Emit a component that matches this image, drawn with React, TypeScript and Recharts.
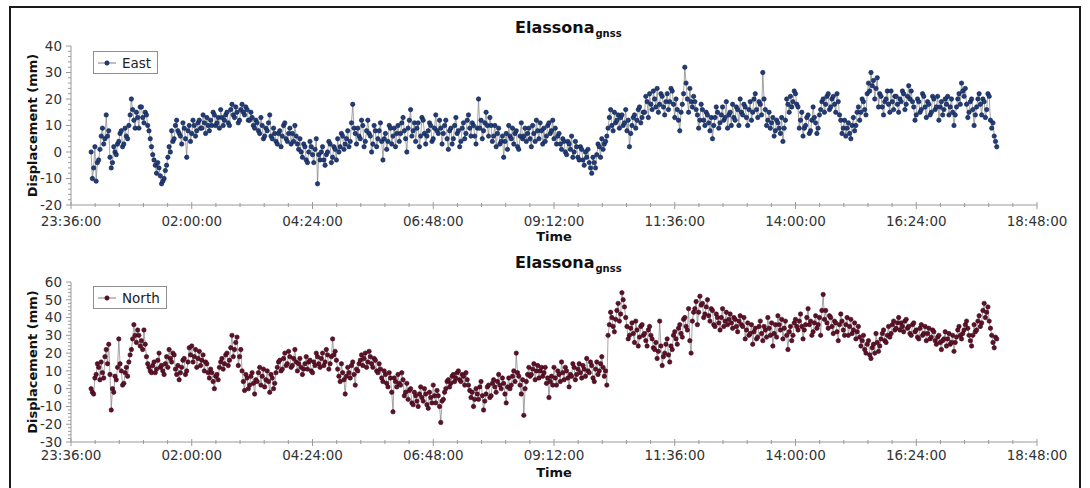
import React from "react";
import { LineChart, Line, XAxis, YAxis, Legend } from "recharts";

const FONT = '"DejaVu Sans", Verdana, sans-serif';
const AXIS = "#9a9a9a";
const LINK = "#808080";

// samples every 1.5 minutes, first one 24 min after 23:36:00
const FIRST_MINUTE = 24;
const STEP_MINUTES = 1.5;

const xTickMinutes = [0, 144, 288, 432, 576, 720, 864, 1008, 1152];
const xTickLabels = [
  "23:36:00",
  "02:00:00",
  "04:24:00",
  "06:48:00",
  "09:12:00",
  "11:36:00",
  "14:00:00",
  "16:24:00",
  "18:48:00",
];
const eastTicks = [-20, -10, 0, 10, 20, 30, 40];
const northTicks = [-30, -20, -10, 0, 10, 20, 30, 40, 50, 60];

// East displacement (mm), one row per hour
const eastValues = [
  0, -10, -6, 2, -11, -4, -3, 1, 6, 9, 3, 5, 14, 6, 8, -2, -6, -4, 2, 0, -1, 3, 4, 7, 8, 2, 3, 9, 6, 5, 10, 14, 20, 16, 12, 9, 15, 13, 9, 17,
  17, 13, 11, 15, 14, 10, 8, 5, 2, -1, -3, -5, -8, -4, -6, -9, -12, -11, -10, -7, -5, -2, 2, 0, 8, 4, 5, 10, 12, 8, 7, 6, 3, 11, 9, 5, -2, 8, 10, 4,
  7, 12, 10, 6, 8, 11, 12, 9, 9, 14, 11, 7, 13, 10, 8, 12, 10, 15, 14, 10, 11, 13, 9, 16, 13, 10, 12, 14, 15, 11, 10, 16, 18, 14, 13, 17, 15, 11, 12, 16,
  18, 15, 14, 17, 16, 12, 12, 15, 13, 10, 9, 12, 11, 8, 7, 13, 10, 5, 6, 9, 8, 11, 14, 6, 5, 9, 7, 4, 3, 7, 8, 2, 6, 10, 11, 5, 4, 7, 9, 3,
  7, 4, 10, 6, 3, 1, 5, 0, -2, 3, 2, -3, -4, 0, 4, 2, -1, -4, 1, 5, -12, -1, -3, 0, 2, -3, -5, -1, 0, 4, 3, -4, -2, 2, 1, -3, 5, 0, 2, 7,
  6, 1, 3, 5, 8, 2, 4, 11, 18, 9, 7, 3, 9, 6, 5, 12, 10, 2, 4, 8, 12, 7, 6, 0, 3, 10, 8, 2, 5, 8, 11, 4, -3, 5, 7, 1, 4, 10, 9, 3,
  6, 9, 2, 7, 10, 4, 7, 11, 13, 8, 5, 0, 9, 12, 16, 6, 8, 11, 4, 9, 11, 2, 6, 13, 12, 7, 3, 6, 8, 11, 10, 4, 5, 9, 14, 8, 7, 12, 9, 3,
  7, 10, 12, 5, 1, 8, 9, 3, 5, 10, 13, 7, 8, 2, 4, 9, 11, 5, 7, 12, 14, 9, 6, 11, 10, 6, 3, 9, 20, 9, 12, 5, 8, 11, 15, 10, 6, 13, 10, 4,
  6, 10, 2, 7, 9, 3, 4, 6, -2, 4, 7, 1, 10, 6, 5, 9, 3, 7, 8, 2, 1, 6, 11, 5, 6, 9, 4, 7, 9, 5, 2, 10, 7, 4, 12, 8, 5, 11, 8, 3,
  9, 4, 6, 10, 11, 7, 8, 12, 5, 9, 3, 6, 7, 3, 1, 5, 4, 0, -1, 4, 3, 1, 6, -2, 0, 4, 2, -2, -3, 2, 1, -3, -5, 0, -2, 1, -4, -6, -8, -2,
  -4, -6, -1, 3, 2, -2, 5, 1, 3, 4, 6, 9, 13, 16, 10, 8, 15, 11, 12, 14, 9, 13, 14, 10, 11, 16, 8, 12, 2, 7, 10, 13, 14, 9, 12, 16, 17, 11, 13, 15,
  15, 21, 19, 13, 22, 18, 16, 23, 20, 17, 24, 15, 18, 22, 21, 17, 14, 19, 22, 16, 19, 24, 23, 18, 13, 20, 16, 12, 8, 15, 18, 22, 32, 26, 20, 15, 24, 19, 17, 21,
  19, 16, 14, 9, 12, 18, 16, 12, 10, 15, 14, 11, 8, 13, 5, 10, 13, 17, 15, 9, 11, 14, 17, 12, 13, 19, 9, 14, 15, 10, 18, 13, 12, 17, 16, 10, 20, 15, 14, 18,
  17, 13, 10, 16, 19, 12, 15, 20, 22, 16, 13, 19, 18, 14, 30, 20, 16, 10, 12, 15, 9, 11, 13, 6, 8, 12, 11, 9, 7, 13, 4, 9, 12, 20, 18, 15, 21, 17, 19, 23,
  22, 18, 17, 9, 12, 15, 6, 9, 10, 13, 14, 7, 8, 12, 17, 13, 11, 7, 9, 14, 16, 19, 20, 15, 18, 21, 22, 16, 17, 20, 21, 18, 15, 22, 19, 14, 12, 7, 9, 12,
  6, 9, 11, 7, 5, 10, 13, 8, 10, 15, 17, 12, 15, 20, 19, 16, 14, 22, 26, 23, 30, 25, 27, 20, 24, 28, 17, 22, 21, 17, 14, 19, 20, 23, 18, 15, 23, 19, 16, 21,
  21, 18, 15, 20, 19, 23, 22, 16, 18, 21, 25, 20, 23, 19, 17, 12, 14, 20, 19, 15, 16, 22, 21, 17, 13, 19, 18, 14, 15, 21, 20, 16, 17, 21, 12, 17, 19, 14, 16, 20,
  18, 21, 14, 17, 20, 15, 10, 14, 17, 20, 22, 18, 26, 23, 21, 24, 18, 13, 15, 19, 20, 16, 10, 14, 17, 20, 22, 18, 14, 20, 19, 13, 16, 22, 21, 12, 9, 11, 6, 4,
  2,
];

// North displacement (mm), one row per hour
const northValues = [
  0, -2, -3, 6, 8, 14, 12, 5, 15, 9, 6, 18, 22, 14, 25, 8, -12, 0, -2, 7, 5, 12, 28, 14, 10, 2, 3, 9, 12, 7, 15, 19, 22, 28, 36, 30, 26, 33, 30, 24,
  27, 22, 33, 25, 18, 14, 12, 10, 9, 13, 15, 9, 11, 16, 20, 12, 13, 10, 8, 14, 18, 12, 22, 17, 15, 20, 19, 11, 8, 13, 5, 9, 12, 16, 17, 8, 10, 15, 23, 19,
  24, 15, 18, 22, 12, 17, 21, 13, 16, 19, 10, 15, 14, 9, 6, 11, 9, 4, 0, 7, 8, 5, 12, 15, 17, 11, 14, 19, 20, 13, 16, 23, 30, 18, 22, 26, 29, 13, 18, 22,
  10, 4, -1, 8, 6, 0, 2, 7, 9, 3, -3, 5, 4, 9, 12, 2, 7, 11, 1, 5, 10, 4, -2, 8, 6, 0, 3, 9, 12, 15, 16, 10, 11, 17, 20, 13, 14, 21, 18, 12,
  13, 17, 22, 15, 10, 14, 17, 12, 8, 11, 14, 18, 11, 15, 16, 10, 9, 15, 13, 20, 18, 14, 12, 17, 20, 13, 15, 22, 19, 11, 14, 18, 28, 19, 21, 16, 11, 7, 4, 14,
  9, 5, -3, 7, 12, 9, 6, 13, 15, 8, 2, 11, 10, 14, 16, 19, 13, 17, 20, 12, 15, 21, 18, 14, 12, 17, 16, 10, 9, 14, 11, 6, 4, 10, 8, 3, 1, 9, 6, -2,
  -13, 6, 4, 1, 8, 3, 2, 9, 5, -4, -2, 3, -6, -1, 0, -8, -9, -2, -4, -7, -10, -3, 1, -5, -7, 0, -3, -9, -11, -2, -5, -8, 2, -4, -8, -1, -4, -10, -19, -7,
  -6, -2, 0, 4, 5, 1, 3, 7, 8, 4, 6, 9, 10, 5, 4, 8, 7, 2, 9, 5, 2, -1, -5, -2, -10, -6, 0, -3, -6, 1, 4, -4, -12, -7, -3, 1, 2, -5, -4, 3,
  5, 1, -2, 4, 8, 2, 0, 6, 3, -3, -8, 1, 6, 0, 2, 7, 10, 4, 20, 9, 7, 2, -3, 5, -15, 0, 4, 8, 12, 7, 8, 11, 14, 5, 10, 13, 6, 10, 12, 7,
  9, 12, 3, 6, -5, 4, 7, 2, 12, 6, 2, 10, 8, 4, 15, 9, 5, 12, 10, 6, 1, 8, 7, 14, 12, 5, 8, 11, 14, 9, 6, 13, 11, 7, 17, 10, 9, 15, 13, 6,
  4, 11, 15, 8, 10, 14, 18, 12, 7, 10, 2, 30, 36, 43, 40, 35, 32, 39, 44, 48, 38, 42, 54, 50, 46, 40, 35, 28, 30, 34, 37, 31, 26, 38, 33, 24, 29, 35, 36, 30,
  31, 27, 24, 33, 35, 30, 28, 23, 22, 26, 17, 21, 38, 24, 13, 18, 20, 25, 28, 19, 15, 24, 22, 30, 32, 28, 25, 34, 36, 31, 29, 39, 40, 35, 33, 45, 27, 20, 38, 43,
  45, 49, 36, 43, 52, 47, 48, 40, 42, 46, 50, 41, 38, 45, 44, 36, 35, 42, 40, 37, 33, 40, 45, 35, 38, 43, 36, 39, 42, 37, 34, 40, 39, 35, 32, 38, 41, 36, 35, 40,
  28, 33, 37, 30, 31, 36, 25, 32, 34, 28, 29, 35, 38, 31, 27, 35, 33, 29, 40, 34, 30, 37, 24, 31, 36, 29, 41, 36, 33, 39, 28, 34, 38, 30, 22, 32, 35, 27, 30, 37,
  39, 35, 33, 38, 42, 35, 28, 33, 36, 40, 45, 36, 38, 30, 32, 37, 41, 34, 36, 40, 30, 44, 53, 39, 44, 37, 34, 41, 40, 35, 31, 38, 37, 32, 27, 36, 42, 38, 33, 30,
  36, 40, 30, 35, 39, 31, 33, 37, 28, 32, 35, 29, 24, 27, 30, 22, 20, 25, 27, 19, 17, 23, 25, 20, 31, 26, 21, 24, 28, 31, 33, 27, 26, 30, 35, 29, 31, 36, 38, 33,
  34, 37, 40, 33, 37, 35, 32, 38, 39, 34, 35, 31, 30, 36, 37, 32, 33, 29, 28, 34, 36, 30, 31, 35, 27, 31, 34, 28, 29, 33, 32, 27, 25, 29, 30, 26, 22, 27, 28, 32,
  24, 28, 31, 25, 26, 30, 21, 26, 29, 33, 35, 30, 28, 31, 33, 36, 38, 34, 30, 27, 24, 30, 36, 32, 33, 38, 41, 35, 37, 44, 48, 40, 43, 46, 38, 34, 30, 26, 23, 29,
  28,
];

const toRows = (values: number[]) =>
  values.map((v, i) => ({ t: FIRST_MINUTE + i * STEP_MINUTES, v }));

// 5 minor divisions per major time step
const xMinorTicks = xTickMinutes
  .slice(0, -1)
  .flatMap((m, i) => [0, 1, 2, 3, 4].map((k) => m + (k * (xTickMinutes[i + 1] - m)) / 5))
  .concat(xTickMinutes[xTickMinutes.length - 1]);

const everyTwo = (ticks: number[]) => {
  const out: number[] = [];
  for (let v = ticks[0]; v <= ticks[ticks.length - 1]; v += 2) out.push(v);
  return out;
};

const X_TICK_SIZE = 5;
const Y_TICK_SIZE = 5;
const Y_TICK_MARGIN = 4;

function makeXTick(margin: number) {
  return function XTick(props: any) {
    const { x, y, payload } = props;
    const idx = xTickMinutes.findIndex((m) => Math.abs(m - payload.value) < 1e-6);
    const axisY = y - X_TICK_SIZE - margin;
    const major = idx >= 0;
    return (
      <g>
        <line x1={x} x2={x} y1={axisY - (major ? 3 : 2)} y2={axisY + (major ? 4 : 2)} stroke={AXIS} />
        {major && (
          <text x={x} y={y} dy="0.71em" textAnchor="middle" fontSize={13.5} fontFamily={FONT} fill="#333">
            {xTickLabels[idx]}
          </text>
        )}
      </g>
    );
  };
}

function makeYTick(majors: number[]) {
  return function YTick(props: any) {
    const { x, y, payload } = props;
    const axisX = x + Y_TICK_SIZE + Y_TICK_MARGIN;
    const major = majors.includes(payload.value);
    return (
      <g>
        <line x1={axisX - (major ? 5 : 3)} x2={axisX} y1={y} y2={y} stroke={AXIS} />
        {major && (
          <text x={x} y={y} dy="0.36em" textAnchor="end" fontSize={13.5} fontFamily={FONT} fill="#333">
            {payload.value}
          </text>
        )}
      </g>
    );
  };
}

function LegendBox({ name, fill, edge }: { name: string; fill: string; edge: string }) {
  return (
    <div
      style={{
        display: "flex",
        alignItems: "center",
        height: 21,
        padding: "0 6px 0 3px",
        border: "1px solid #8f8f8f",
        background: "#fff",
        fontFamily: FONT,
        fontSize: 13.5,
        color: "#222",
        whiteSpace: "nowrap",
      }}
    >
      <svg width={20} height={10} style={{ marginRight: 5 }}>
        <line x1={1} x2={19} y1={5} y2={5} stroke={LINK} strokeWidth={1} />
        <circle cx={10} cy={5} r={2.2} fill={fill} stroke={edge} strokeWidth={0.6} />
      </svg>
      {name}
    </div>
  );
}

interface PanelProps {
  top: number;
  height: number;
  plotTop: number;
  xAxisHeight: number;
  xTickMargin: number;
  timeOffset: number;
  titleTop: number;
  legendTop: number;
  values: number[];
  name: string;
  ticks: number[];
  fill: string;
  edge: string;
}

function Panel(p: PanelProps) {
  const data = toRows(p.values);
  return (
    <div style={{ position: "absolute", left: 0, top: p.top, width: 1090, height: p.height }}>
      <div
        style={{
          position: "absolute",
          left: 515,
          top: p.titleTop,
          fontFamily: FONT,
          fontWeight: "bold",
          fontSize: 16,
          lineHeight: "16px",
          color: "#111",
          whiteSpace: "nowrap",
          zIndex: 2,
        }}
      >
        Elassona
        <span style={{ fontSize: 10, position: "relative", top: 4, marginLeft: 1 }}>gnss</span>
      </div>
      <LineChart
        width={1090}
        height={p.height}
        data={data}
        margin={{ top: p.plotTop, right: 53, left: 0, bottom: 0 }}
      >
        <XAxis
          dataKey="t"
          type="number"
          domain={[xTickMinutes[0], xTickMinutes[xTickMinutes.length - 1]]}
          ticks={xMinorTicks}
          interval={0}
          height={p.xAxisHeight}
          stroke={AXIS}
          tickLine={false}
          tickSize={X_TICK_SIZE}
          tickMargin={p.xTickMargin}
          tick={makeXTick(p.xTickMargin)}
          label={{
            value: "Time",
            position: "insideBottom",
            offset: p.timeOffset,
            style: { fontFamily: FONT, fontWeight: "bold", fontSize: 13, fill: "#111" },
          }}
        />
        <YAxis
          type="number"
          domain={[p.ticks[0], p.ticks[p.ticks.length - 1]]}
          ticks={everyTwo(p.ticks)}
          interval={0}
          width={71}
          stroke={AXIS}
          tickLine={false}
          tickSize={Y_TICK_SIZE}
          tickMargin={Y_TICK_MARGIN}
          tick={makeYTick(p.ticks)}
          label={{
            value: "Displacement (mm)",
            angle: -90,
            position: "insideLeft",
            offset: 32,
            style: { fontFamily: FONT, fontWeight: "bold", fontSize: 13, fill: "#111", textAnchor: "middle" },
          }}
        />
        <Legend
          layout="vertical"
          align="center"
          verticalAlign="middle"
          wrapperStyle={{ left: 93, top: p.legendTop, width: "auto" }}
          content={() => <LegendBox name={p.name} fill={p.fill} edge={p.edge} />}
        />
        <Line
          type="linear"
          dataKey="v"
          name={p.name}
          stroke={LINK}
          strokeWidth={0.7}
          dot={{ r: 2.2, fill: p.fill, stroke: p.edge, strokeWidth: 0.6 }}
          isAnimationActive={false}
        />
      </LineChart>
    </div>
  );
}

export default function App() {
  return (
    <div
      style={{
        position: "absolute",
        left: 0,
        top: 0,
        width: 1090,
        height: 488,
        overflow: "hidden",
        background: "#fff",
      }}
    >
      <div
        style={{
          position: "absolute",
          left: 9,
          top: 6,
          width: 1072,
          height: 500,
          boxSizing: "border-box",
          border: "2px solid #1a1a1a",
        }}
      />
      <Panel
        top={0}
        height={245}
        plotTop={46}
        xAxisHeight={40}
        xTickMargin={6}
        timeOffset={4}
        titleTop={20}
        legendTop={51}
        values={eastValues}
        name="East"
        ticks={eastTicks}
        fill="#213d7a"
        edge="#0d1f47"
      />
      <Panel
        top={240}
        height={248}
        plotTop={42}
        xAxisHeight={46}
        xTickMargin={3}
        timeOffset={11}
        titleTop={15}
        legendTop={46}
        values={northValues}
        name="North"
        ticks={northTicks}
        fill="#5e1129"
        edge="#3a0617"
      />
    </div>
  );
}
